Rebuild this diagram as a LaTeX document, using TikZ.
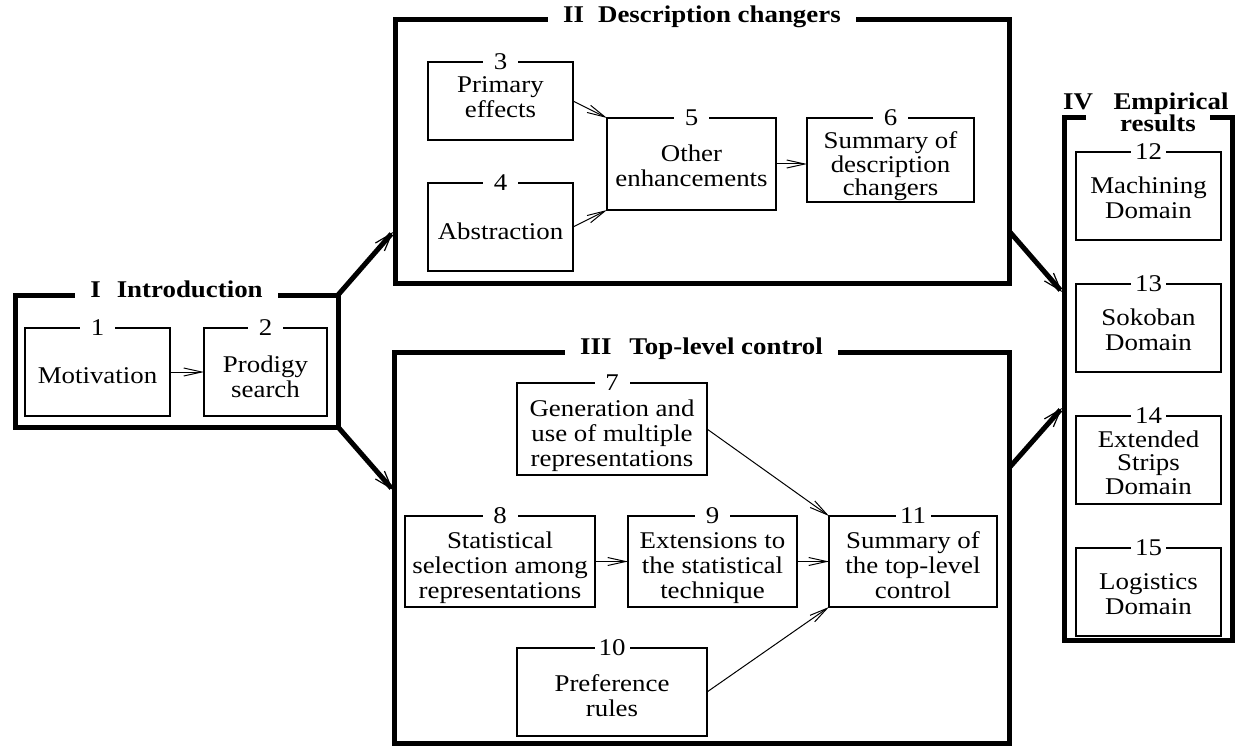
\documentclass[tikz,border=0pt]{standalone}
\usepackage{fontspec}
\setmainfont{Liberation Serif}[FakeStretch=1.12]
\usetikzlibrary{arrows.meta}
% centred lines of a chapter box, set a little below the box centre
\newcommand\boxtext[2][7pt]{\raisebox{-#1}[\height][\depth]{\begin{tabular}{@{}c@{}}#2\end{tabular}}}
\begin{document}
\begin{tikzpicture}[x=1pt,y=-1pt,
  font=\fontsize{24}{25}\selectfont,
  part/.style={draw, line width=5pt, inner sep=0pt, outer sep=0pt},
  sect/.style={draw, line width=1.2pt, inner sep=0pt, outer sep=0pt},
  num/.style={fill=white, inner sep=0pt, minimum width=35pt, minimum height=14pt},
  title/.style={fill=white, inner xsep=15pt, inner ysep=0pt, text height=16pt, text depth=5pt,
                yshift=3pt, font=\fontsize{24}{25}\selectfont\bfseries},
  bold/.style={inner sep=0pt, font=\fontsize{24}{25}\selectfont\bfseries},
  link/.style={line width=1pt, -{Straight Barb[length=18pt,width=8pt]}},
  bigarrow/.style={line width=5pt, -{Straight Barb[length=18pt,width=12pt,line width=1.2pt 0]}},
]
\useasboundingbox (0,0) rectangle (1238,746);

% ---- parts ----
\node[part, minimum width=323pt, minimum height=132pt] (P1) at (176.5,361) {};
\node[part, minimum width=614pt, minimum height=263pt] (P2) at (702,151.5) {};
\node[part, minimum width=615pt, minimum height=391pt] (P3) at (701.5,547.5) {};
\node[inner sep=0pt, outer sep=0pt, minimum width=168pt, minimum height=522pt] (P4) at (1148,379) {};
\draw[line width=5pt, line join=miter]
  ([xshift=22pt]P4.north west) -- (P4.north west) -- (P4.south west)
  -- (P4.south east) -- (P4.north east) -- ([xshift=-22pt]P4.north east);

\node[title] (T1) at (P1.north) {I\hspace{16pt}Introduction};
\node[title] (T2) at (P2.north) {II\hspace{14pt}Description changers};
\node[title] (T3) at (P3.north) {III\hspace{18pt}Top-level control};
\node[bold, anchor=base west] (T4a) at (1063,110) {IV};
\node[bold, anchor=base] (T4b) at (1171,110) {Empirical};
\node[bold, anchor=base] (T4c) at (1158,132) {results};

% ---- Part I ----
\node[sect, minimum width=145pt, minimum height=88pt] (c1) at (97.5,372) {\boxtext[6pt]{Motivation}};
\node[sect, minimum width=123pt, minimum height=88pt] (c2) at (265.5,372) {\boxtext[8pt]{Prodigy\\search}};

% ---- Part II ----
\node[sect, minimum width=145pt, minimum height=78pt] (c3) at (500.5,101) {\boxtext[-1pt]{Primary\\effects}};
\node[sect, minimum width=145pt, minimum height=88pt] (c4) at (500.5,227) {\boxtext[7pt]{Abstraction}};
\node[sect, minimum width=169pt, minimum height=92pt] (c5) at (691.5,164) {\boxtext[5pt]{Other\\enhancements}};
\node[sect, minimum width=167pt, minimum height=84pt, font=\fontsize{24}{22}\selectfont]
  (c6) at (890.5,160) {\boxtext[7pt]{Summary of\\description\\changers}};

% ---- Part III ----
\node[sect, minimum width=190pt, minimum height=92pt] (c7) at (612,429) {\boxtext[7pt]{Generation and\\use of multiple\\representations}};
\node[sect, minimum width=190pt, minimum height=91pt] (c8) at (500,561.5) {\boxtext[7pt]{Statistical\\selection among\\representations}};
\node[sect, minimum width=169pt, minimum height=91pt] (c9) at (712.5,561.5) {\boxtext[7pt]{Extensions to\\the statistical\\technique}};
\node[sect, minimum width=190pt, minimum height=88pt] (c10) at (612,692) {\boxtext[7pt]{Preference\\rules}};
\node[sect, minimum width=168pt, minimum height=91pt] (c11) at (913,561.5) {\boxtext[7pt]{Summary of\\the top-level\\control}};

% ---- Part IV ----
\node[sect, minimum width=145pt, minimum height=88pt] (c12) at (1148.5,196) {\boxtext[5pt]{Machining\\Domain}};
\node[sect, minimum width=145pt, minimum height=88pt] (c13) at (1148.5,328) {\boxtext[5pt]{Sokoban\\Domain}};
\node[sect, minimum width=145pt, minimum height=88pt, font=\fontsize{24}{23.5}\selectfont]
  (c14) at (1148.5,460) {\boxtext[6pt]{Extended\\Strips\\Domain}};
\node[sect, minimum width=145pt, minimum height=88pt] (c15) at (1148.5,592) {\boxtext[5pt]{Logistics\\Domain}};

% ---- chapter numbers ----
\foreach \i in {1,...,15} {
  \node[num] (n\i) at (c\i.north) {\i};
}

% ---- links between chapters ----
\draw[link] (c1.east) -- (c2.west);
\draw[link] (c3.east) -- (c5.north west);
\draw[link] (c4.east) -- (c5.south west);
\draw[link] (c5.east) -- (c5.east -| c6.west);
\draw[link] (c7.east) -- (c11.north west);
\draw[link] (c8.east) -- (c9.west);
\draw[link] (c9.east) -- (c11.west);
\draw[link] (c10.east) -- (c11.south west);

% ---- links between parts ----
\coordinate (a2) at (393,232);
\coordinate (a3) at (393,490);
\coordinate (b2) at (1009,231);
\coordinate (b3) at (1009,468);
\coordinate (d2) at (1062,292);
\coordinate (d3) at (1062,408);
\draw[bigarrow] (P1.north east) -- (a2);
\draw[bigarrow] (P1.south east) -- (a3);
\draw[bigarrow] (b2) -- (d2);
\draw[bigarrow] (b3) -- (d3);
\end{tikzpicture}
\end{document}
